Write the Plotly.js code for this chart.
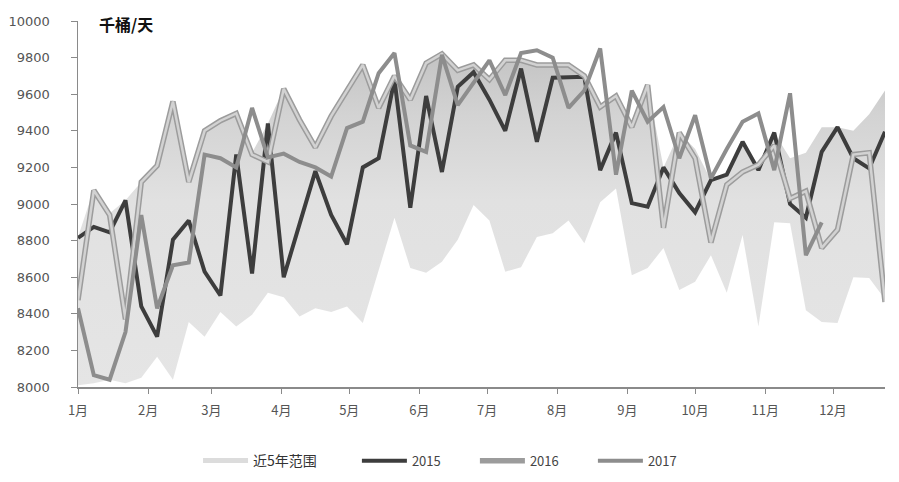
<!DOCTYPE html>
<html>
<head>
<meta charset="utf-8">
<script src="https://cdn.plot.ly/plotly-3.0.1.min.js"></script>
<style>html,body{margin:0;padding:0;background:#fff;}#chart{width:899px;height:482px;}</style>
</head>
<body>
<div id="chart"></div>
<script>
// Month tick labels
const monthLabels = ["1月","2月","3月","4月","5月","6月","7月","8月","9月","10月","11月","12月"];
const monthStarts = ["2017-01-01","2017-02-01","2017-03-01","2017-04-01","2017-05-01","2017-06-01","2017-07-01","2017-08-01","2017-09-01","2017-10-01","2017-11-01","2017-12-01"];
const yTicks = [8000,8200,8400,8600,8800,9000,9200,9400,9600,9800,10000];
const yTickLabels = ["8000","8200","8400","8600","8800","9000","9200","9400","9600","9800","10000"];

// 5-year range (thousand barrels/day), weekly
const rangeLow = [8010,8020,8040,8020,8050,8165,8040,8355,8275,8410,8330,8395,8515,8490,8385,8430,8410,8440,8350,8640,8925,8650,8625,8685,8805,8995,8910,8630,8655,8820,8840,8910,8785,9010,9085,8610,8650,8760,8530,8575,8720,8515,8830,8330,8900,8895,8420,8355,8350,8600,8595,8480];
const rangeHigh = [8820,9080,8950,9020,9120,9210,9570,9120,9400,9460,9500,9280,9440,9630,9460,9310,9500,9620,9760,9530,9700,9570,9770,9820,9730,9760,9690,9785,9785,9770,9770,9760,9700,9530,9590,9420,9650,9200,9390,9300,9130,9160,9340,9215,9390,9250,9280,9420,9420,9400,9490,9620];

const y2015 = [8815,8875,8845,9020,8440,8275,8805,8910,8630,8500,9270,8620,9440,8600,8890,9180,8940,8780,9200,9250,9680,8980,9590,9175,9640,9720,9570,9400,9740,9340,9690,9695,9695,9185,9390,9005,8985,9200,9060,8955,9130,9160,9340,9185,9390,9000,8925,9285,9420,9250,9195,9395];
const y2016 = [8475,9075,8940,8370,9120,9210,9560,9120,9400,9455,9495,9270,9230,9630,9460,9310,9480,9620,9760,9525,9700,9570,9770,9820,9730,9760,9680,9785,9785,9760,9760,9760,9700,9530,9590,9420,9650,8870,9390,9250,8790,9105,9175,9215,9320,9030,9070,8760,8860,9270,9280,8465];
const y2017 = [8430,8065,8040,8300,8940,8430,8665,8680,9270,9250,9200,9525,9255,9275,9230,9200,9150,9415,9450,9715,9825,9320,9285,9815,9540,9660,9785,9595,9825,9840,9800,9525,9620,9850,9160,9620,9450,9530,9250,9485,9140,9300,9450,9495,9185,9605,8720,8900];

// weekly dates
const weeks = [];
for (let i = 0; i < 52; i++) {
  const d = new Date(Date.UTC(2017, 0, 1 + 7 * i));
  weeks.push(d.toISOString().slice(0, 10));
}

const cjk = '"Noto Sans CJK SC", "DejaVu Sans", sans-serif';

const traces = [
  {x: weeks, y: rangeLow, type: 'scatter', mode: 'lines', line: {width: 0, color: 'rgba(0,0,0,0)'}, showlegend: false, hoverinfo: 'skip'},
  {x: weeks, y: rangeHigh, type: 'scatter', mode: 'lines', line: {width: 0, color: 'rgba(0,0,0,0)'}, fill: 'tonexty',
   fillgradient: {type: 'vertical', start: 8000, stop: 9850, colorscale: [[0, '#e5e5e5'], [0.55, '#e1e1e1'], [0.8, '#d3d3d3'], [1, '#c2c2c2']]},
   showlegend: false, hoverinfo: 'skip'},
  {x: [null], y: [null], type: 'scatter', mode: 'lines', name: '近5年范围', legend: 'legend', line: {color: '#dcdcdc', width: 5}},
  {x: weeks, y: y2015, type: 'scatter', mode: 'lines', name: '2015', legend: 'legend2', line: {color: '#3d3d3d', width: 4}},
  {x: weeks, y: y2016, type: 'scatter', mode: 'lines', name: '2016', legend: 'legend2', legendgroup: 'g16', line: {color: '#9c9c9c', width: 5.5}},
  {x: weeks, y: y2016, type: 'scatter', mode: 'lines', name: '2016', legend: 'legend2', legendgroup: 'g16', showlegend: false, line: {color: '#d2d2d2', width: 2.5}},
  {x: weeks.slice(0, y2017.length), y: y2017, type: 'scatter', mode: 'lines', name: '2017', legend: 'legend2', line: {color: '#8d8d8d', width: 4}}
];

const legendFont = {family: cjk, size: 13, color: '#444'};
const layout = {
  width: 899, height: 482,
  margin: {l: 78, r: 14, t: 21, b: 95},
  paper_bgcolor: '#ffffff', plot_bgcolor: '#ffffff',
  showlegend: true,
  legend: {orientation: 'h', xref: 'container', yref: 'container', x: 0.2203, xanchor: 'left', y: 0.044, yanchor: 'middle',
           itemwidth: 45, font: {family: cjk, size: 14, color: '#333'}},
  legend2: {orientation: 'h', xref: 'container', yref: 'container', x: 0.397, xanchor: 'left', y: 0.044, yanchor: 'middle',
            itemwidth: 45, font: legendFont, entrywidth: 58, traceorder: 'normal'},
  xaxis: {type: 'date', range: ['2017-01-01', '2017-12-24'], tickvals: monthStarts, ticktext: monthLabels,
          showgrid: false, zeroline: false, showline: true, linecolor: '#8a8a8a', linewidth: 1.5,
          ticks: 'outside', ticklen: 5, tickcolor: '#8a8a8a', ticklabelstandoff: 6, tickfont: {family: cjk, size: 13, color: '#555'}},
  yaxis: {range: [8000, 10000], tickvals: yTicks, ticktext: yTickLabels,
          showgrid: false, zeroline: false, showline: true, linecolor: '#8a8a8a', linewidth: 1.5,
          ticks: 'outside', ticklen: 6, tickcolor: '#8a8a8a', ticklabelstandoff: 18,
          tickfont: {family: '"DejaVu Sans", sans-serif', size: 13, color: '#555'}},
  annotations: [{text: '<b>千桶/天</b>', xref: 'paper', yref: 'paper', x: 0.024, y: 1, xanchor: 'left', yanchor: 'middle', yshift: -3,
                 showarrow: false, font: {family: cjk, size: 16, color: '#111'}}]
};

Plotly.newPlot('chart', traces, layout, {displayModeBar: false, staticPlot: true});
</script>
</body>
</html>
